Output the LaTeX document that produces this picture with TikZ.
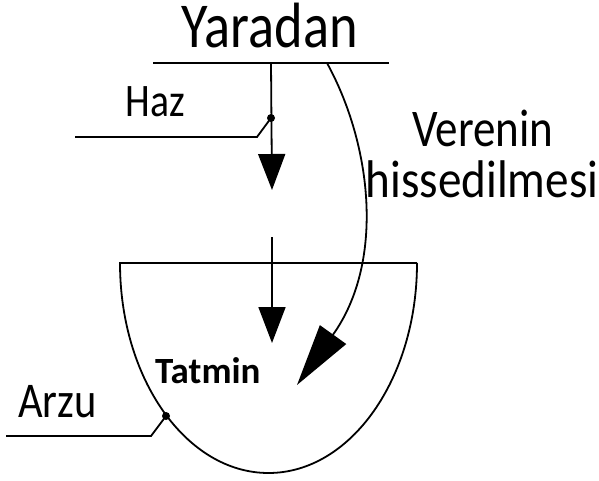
\documentclass[tikz,border=0pt]{standalone}
\usepackage{fontspec}
\setmainfont{Carlito}
\newfontfamily\narrowfont[FakeStretch=0.85]{Carlito}
\newfontfamily\widerfont[FakeStretch=0.89]{Carlito}
\usetikzlibrary{arrows.meta}
\begin{document}
\begin{tikzpicture}[x=1pt,y=-1pt,
  ln/.style={line width=1.8pt, black},
  downarrow/.style={ln, -{Triangle[length=36pt,width=27pt]}},
  bigarrow/.style={ln, -{Triangle[length=62pt,width=32pt]}},
  lbl/.style={inner sep=0pt},
  dotc/.style={circle, fill=black, inner sep=0pt, minimum size=8pt}]
\useasboundingbox (0,0) rectangle (599,481);
\fill[white] (0,0) rectangle (599,481);
% top line
\coordinate (tl) at (153,63);
\coordinate (tr) at (389,63);
\draw[ln] (tl) -- (tr);
\node[lbl, anchor=base, font=\narrowfont\fontsize{64}{70}\selectfont] (yaradan) at (270,48) {Yaradan};
% first vertical arrow
\coordinate (v1s) at (271,63);
\coordinate (v1e) at (272,190);
\draw[downarrow] (v1s) -- (v1e);
% Haz
\node[dotc] (hazdot) at (271,118) {};
\coordinate (hazA) at (75,137);
\coordinate (hazB) at (257,137);
\draw[ln] (hazA) -- (hazB) -- (hazdot.center);
\node[lbl, anchor=base, font=\narrowfont\fontsize{46.6}{50}\selectfont] (haz) at (155,117) {Haz};
% second vertical arrow
\coordinate (v2s) at (272,237);
\coordinate (v2e) at (272,343);
\draw[downarrow] (v2s) -- (v2e);
% bowl
\coordinate (bl) at (120,263);
\coordinate (br) at (417,263);
\draw[ln] (br) -- (bl) arc[start angle=180, end angle=0, x radius=148.5, y radius=210];
% curved arrow
\coordinate (cs) at (327,63);
\coordinate (ctip) at (297,385);
\draw[bigarrow] (cs) .. controls (372,145) and (385,262) .. (ctip);
% Verenin hissedilmesi
\node[lbl, anchor=base, font=\narrowfont\fontsize{53}{56}\selectfont] (verenin) at (483,147) {Verenin};
\node[lbl, anchor=base, font=\widerfont\fontsize{53}{56}\selectfont] (hiss) at (482,197) {hissedilmesi};
% Tatmin
\node[lbl, anchor=base west, font=\bfseries\fontsize{37}{40}\selectfont] (tatmin) at (155,383) {Tatmin};
% Arzu
\node[dotc] (arzudot) at (166,416) {};
\coordinate (arzuA) at (6,436);
\coordinate (arzuB) at (151,436);
\draw[ln] (arzuA) -- (arzuB) -- (arzudot.center);
\node[lbl, anchor=base west, font=\narrowfont\fontsize{50}{54}\selectfont] (arzu) at (18,417) {Arzu};
\end{tikzpicture}
\end{document}
